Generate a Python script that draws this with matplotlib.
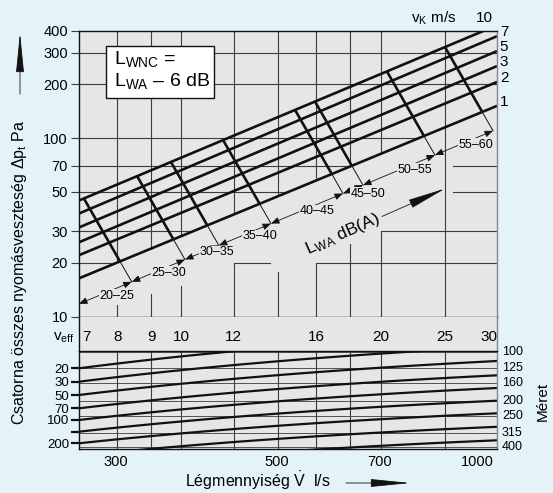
import matplotlib.pyplot as plt
import numpy as np
from matplotlib.patches import Polygon, Rectangle, FancyArrowPatch
from matplotlib.transforms import blended_transform_factory

plt.rcParams['font.family'] = ['Liberation Sans', 'DejaVu Sans']
plt.rcParams['mathtext.fontset'] = 'custom'
plt.rcParams['mathtext.rm'] = 'Liberation Sans'
plt.rcParams['mathtext.it'] = 'Liberation Sans:italic'

BG = '#e3f3f8'
PANEL = '#e6e6e6'
INK = '#111111'
GRID = '#3c3c3c'

# upper nomogram: duct pressure loss (Pa) against v_eff (log-log)
vk_labels = ['10', '7', '5', '3', '2', '1']
vk_dp_left = [44.7, 37.8, 31.6, 26.1, 22.1, 16.4]      # at v_eff = 7
vk_dp_right = [428, 371.7, 306.7, 252.9, 206.0, 151.4]  # at v_eff = 30

dp_ticks = [10, 20, 30, 50, 70, 100, 200, 300, 400]
grid_dp = [20, 30, 50, 70, 100, 200, 300]
grid_veff = [8, 9, 10, 12, 14, 16, 18, 20, 25]

# grid pieces under the v_K = 1 line
stub_veff = [8, 9, 10, 12, 14, 16, 18, 20]
stub_top = [11.6, 13.4, 14.8, 20, 17.7, 20, 25.4, 30]
hseg_dp = [20, 20, 30, 50, 70]
hseg_from = [12, 16, 20, 25.7, 25.7]
hseg_to = [13.6, 30, 30, 30, 30]

# L_WA limit lines (where they leave the v_K = 10 line)
lwa_top_veff = [7.12, 8.57, 9.64, 11.56, 14.85, 15.92, 20.45, 25.03]
cross_slope = -6.45
dim_dp_left, dim_dp_right = 11.8, 112.2
band_labels = ['20–25', '25–30', '30–35', '35–40', '40–45', '45–50', '50–55', '55–60']
band_veff = [7.99, 9.57, 11.32, 13.15, 16.03, 19.14, 22.55, 27.88]
band_dp = [13.05, 17.52, 22.94, 28.18, 38.83, 48.93, 66.6, 91.8]

veff_labels = [7, 8, 9, 10, 12, 16, 20, 25, 30]

# lower panel: duct size lines (position measured down from panel top)
size_left = [17.3, 30.7, 44, 57.3, 69, 80.7, 92.3, 104.8, 117.3, 129.8]
size_right = [-18.7, -4.3, 10, 24.3, 37, 49.7, 62.3, 75.8, 89.3, 102.8]
left_names = ['20', '30', '50', '70', '100', '', '200']
size_names = ['100', '125', '160', '200', '250', '315', '400']
size_pos = [1, 17, 32, 50, 65, 82, 96]
bend = 0.6   # size lines flatten towards high v_eff

flow_ticks = ['300', '500', '700', '1000']
flow_pos = [7.95, 13.95, 19.9, 28.0]

fig = plt.figure(figsize=(5.53, 4.93), dpi=100, facecolor=BG)
W, H = 553, 493


def box(x0, y0, x1, y1):
    return [x0 / W, 1 - y1 / H, (x1 - x0) / W, (y1 - y0) / H]


axU = fig.add_axes(box(79, 30.5, 497, 316.7))
axB = fig.add_axes(box(79, 316.7, 497, 351))
axL = fig.add_axes(box(79, 351, 497, 449))

for ax in (axU, axB, axL):
    ax.set_facecolor(PANEL)
    ax.set_xscale('log')
    ax.set_xlim(7, 30)
    ax.xaxis.set_major_locator(plt.NullLocator())
    ax.xaxis.set_minor_locator(plt.NullLocator())
    for s in ax.spines.values():
        s.set_color(INK)
        s.set_linewidth(1.0)
    ax.spines['right'].set_color('#888888')

# ---- upper panel
axU.set_yscale('log')
axU.set_ylim(10, 400)
axU.set_yticks(dp_ticks)
axU.set_yticklabels([str(t) for t in dp_ticks], fontsize=10.5)
axU.yaxis.set_minor_locator(plt.NullLocator())
axU.tick_params(axis='y', length=6, width=0.8, color=GRID, pad=2)

X7, X30 = np.log10(7), np.log10(30)


def line_y(k, X):
    a, b = np.log10(vk_dp_left[k]), np.log10(vk_dp_right[k])
    return a + (b - a) * (X - X7) / (X30 - X7)


def base_y(X):
    a, b = np.log10(dim_dp_left), np.log10(dim_dp_right)
    return a + (b - a) * (X - X7) / (X30 - X7)


clip = Polygon([(7, vk_dp_left[-1]), (30, vk_dp_right[-1]), (30, 400), (7, 400)],
               closed=True, transform=axU.transData, fill=False, lw=0)
axU.add_patch(clip)
for v in grid_veff:
    ln = axU.axvline(v, color=GRID, lw=0.8)
    if v != 25:
        ln.set_clip_path(clip)
for d in grid_dp:
    ln = axU.axhline(d, color=GRID, lw=0.8)
    ln.set_clip_path(clip)
for v, t in zip(stub_veff, stub_top):
    axU.plot([v, v], [10, t], color=GRID, lw=0.8)
for d, a, b in zip(hseg_dp, hseg_from, hseg_to):
    axU.plot([a, b], [d, d], color=GRID, lw=0.8)

xs = np.array([7, 30])
for lo, hi in zip(vk_dp_left, vk_dp_right):
    axU.plot(xs, [lo, hi], color=INK, lw=1.9, solid_capstyle='butt')
for k, name in enumerate(vk_labels[1:], start=1):
    axU.annotate(name, xy=(30, vk_dp_right[k]), xytext=(2, 3), textcoords='offset points',
                 ha='left', va='center', fontsize=11, annotation_clip=False)
# where the v_K = 10 line leaves the top
X10 = X7 + (np.log10(400) - line_y(0, X7)) / (line_y(0, X30) - line_y(0, X7)) * (X30 - X7)
axU.annotate(vk_labels[0], xy=(10 ** X10, 400), xytext=(0, 9), textcoords='offset points',
             ha='center', va='center', fontsize=11, annotation_clip=False)
axU.text(0.904, 1.044, 'v$_\\mathrm{K}$ m/s', transform=axU.transAxes, ha='right',
         va='center', fontsize=11)

# L_WA limit lines with their dimension lines
ends = [(7, 10 ** base_y(X7))]
k1 = len(vk_labels) - 1
a1 = line_y(k1, X7)
b1 = (line_y(k1, X30) - a1) / (X30 - X7)
ab = base_y(X7)
bb = (base_y(X30) - ab) / (X30 - X7)
for v0 in lwa_top_veff:
    X0 = np.log10(v0)
    Y0 = line_y(0, X0)
    Xb = (a1 - b1 * X7 - Y0 + cross_slope * X0) / (cross_slope - b1)
    Xe = (ab - bb * X7 - Y0 + cross_slope * X0) / (cross_slope - bb)
    Yb = Y0 + cross_slope * (Xb - X0)
    Ye = Y0 + cross_slope * (Xe - X0)
    axU.plot([v0, 10 ** Xb], [10 ** Y0, 10 ** Yb], color=INK, lw=1.9, solid_capstyle='butt')
    axU.plot([10 ** Xb, 10 ** Xe], [10 ** Yb, 10 ** Ye], color=INK, lw=0.7)
    ends.append((10 ** Xe, 10 ** Ye))

for i, lab in enumerate(band_labels):
    axU.annotate('', xy=ends[i + 1], xytext=ends[i],
                 arrowprops=dict(arrowstyle='<|-|>,head_length=0.5,head_width=0.2',
                                 lw=0.6, color=INK, mutation_scale=10,
                                 shrinkA=0, shrinkB=0))
    axU.text(band_veff[i], band_dp[i], lab, ha='center', va='center', fontsize=9,
             bbox=dict(facecolor=PANEL, edgecolor='none', pad=0.5))

axU.text(17.53, 28.9, 'L$_\\mathrm{WA}$ dB(A)', rotation=24, ha='center', va='center',
         rotation_mode='anchor', fontsize=12.5)
axU.annotate('', xy=(25.03, 52.1), xytext=(20.1, 36.4),
             arrowprops=dict(arrowstyle='-|>,head_length=2.4,head_width=0.28', lw=0.6,
                             color=INK, mutation_scale=10, shrinkA=0, shrinkB=0))

axU.add_patch(Rectangle((0.064, 0.763), 0.259, 0.183, transform=axU.transAxes,
                        facecolor='white', edgecolor=INK, lw=1.0, zorder=5))
axU.text(0.084, 0.90, 'L$_\\mathrm{WNC}$ =', transform=axU.transAxes, fontsize=14,
         va='center', ha='left', zorder=6)
axU.text(0.084, 0.825, 'L$_\\mathrm{WA}$ – 6 dB', transform=axU.transAxes, fontsize=14,
         va='center', ha='left', zorder=6)

# ---- v_eff band
axB.set_yticks([])
axB.set_ylim(0, 1)
axB.spines['top'].set_visible(False)
axB.spines['bottom'].set_visible(False)
for v in veff_labels:
    ha = 'left' if v == 7 else ('right' if v == 30 else 'center')
    axB.text(v * (1.01 if v == 7 else 1), 0.42, str(v), ha=ha, va='center', fontsize=11)
axB.text(-0.01, 0.38, 'v$_\\mathrm{eff}$', transform=axB.transAxes, ha='right',
         va='center', fontsize=11)

# ---- lower panel
axL.set_ylim(98, 0)
axL.set_yticks(size_left[:len(left_names)])
axL.set_yticklabels(left_names, fontsize=9.5)
axL.tick_params(axis='y', length=6, width=1.6, color=INK, pad=1)
for v in grid_veff:
    axL.axvline(v, color=GRID, lw=0.8)
for p in size_pos:
    axL.axhline(p, color=GRID, lw=0.6)
vv = np.geomspace(7, 30, 60)
shape = (7 ** -bend - vv ** -bend) / (7 ** -bend - 30 ** -bend)
for lo, hi in zip(size_left, size_right):
    axL.plot(vv, lo + (hi - lo) * shape, color=INK, lw=1.6)
tr = blended_transform_factory(axL.transAxes, axL.transData)
for name, p in zip(size_names, size_pos):
    axL.text(1.012, p, name, transform=tr, ha='left', va='center', fontsize=9)
trx = blended_transform_factory(axL.transData, axL.transAxes)
for name, v in zip(flow_ticks, flow_pos):
    axL.text(v, -0.13, name, transform=trx, ha='center', va='center', fontsize=10.5)

# ---- outer labels
fig.text(185 / W, 1 - 481 / H, 'Légmennyiség $\\dot{\\mathrm{V}}$  l/s', ha='left',
         va='center', fontsize=11.5)
fig.patches.append(FancyArrowPatch(
    (343 / W, 1 - 483 / H), (413 / W, 1 - 483 / H), transform=fig.transFigure,
    arrowstyle='-|>,head_length=2.5,head_width=0.25', mutation_scale=10, lw=0.6,
    color=INK))
fig.text(20 / W, 1 - 272 / H, 'Csatorna összes nyomásveszteség Δp$_\\mathrm{t}$ Pa',
         rotation=90, ha='center', va='center', fontsize=11.5)
fig.patches.append(FancyArrowPatch(
    (20 / W, 1 - 97 / H), (20 / W, 1 - 30 / H), transform=fig.transFigure,
    arrowstyle='-|>,head_length=2.5,head_width=0.25', mutation_scale=10, lw=0.6,
    color=INK))
fig.text(543 / W, 1 - 401 / H, 'Méret', rotation=90, ha='center', va='center',
         fontsize=11)

fig.savefig('out.png', dpi=100, facecolor=BG)
